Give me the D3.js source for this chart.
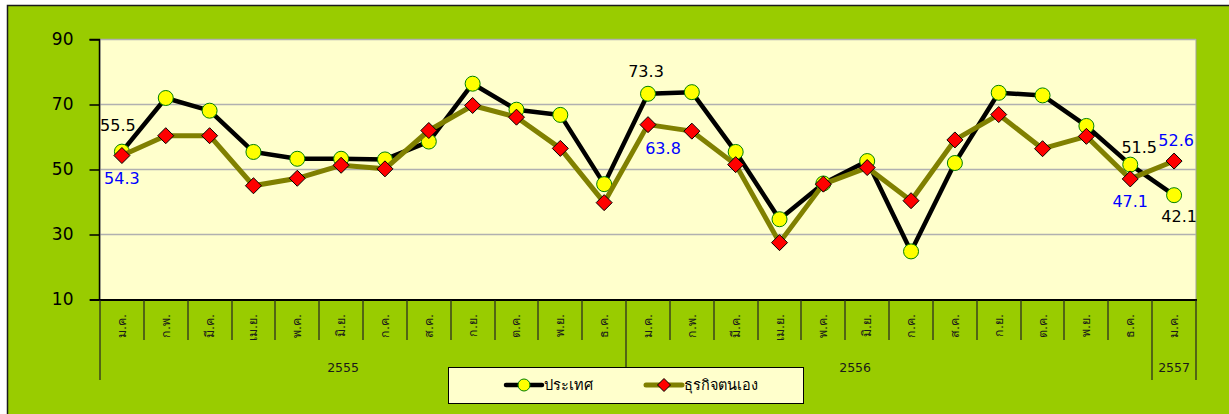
<!DOCTYPE html>
<html>
<head>
<meta charset="utf-8">
<script src="https://cdn.jsdelivr.net/npm/d3@7"></script>
<style>
  body { margin: 0; background: #fff; }
  svg { display: block; font-family: Tahoma, "DejaVu Sans", sans-serif; }
</style>
</head>
<body>
<svg width="1229" height="414"></svg>
<script>
"use strict";

// categories (months) and groups (Buddhist years)
const months = [
  "ม.ค.", "ก.พ.", "มี.ค.", "เม.ย.", "พ.ค.", "มิ.ย.", "ก.ค.", "ส.ค.", "ก.ย.", "ต.ค.", "พ.ย.", "ธ.ค.",
  "ม.ค.", "ก.พ.", "มี.ค.", "เม.ย.", "พ.ค.", "มิ.ย.", "ก.ค.", "ส.ค.", "ก.ย.", "ต.ค.", "พ.ย.", "ธ.ค.",
  "ม.ค.",
];
const years = ["2555", "2556", "2557"];
const yearStart = [0, 12, 24];
const yearEnd = [12, 24, 25];

// series values
const seriesNames = ["ประเทศ", "ธุรกิจตนเอง"];
const country = [
  55.5, 72.0, 68.1, 55.4, 53.3, 53.3, 53.1, 58.6, 76.4, 68.4, 66.8, 45.5,
  73.3, 73.8, 55.4, 34.7, 45.7, 52.6, 24.8, 52.0, 73.6, 72.8, 63.4, 51.5,
  42.1,
];
const ownBusiness = [
  54.3, 60.4, 60.4, 45.0, 47.3, 51.3, 50.2, 62.0, 69.7, 66.1, 56.5, 39.8,
  63.8, 61.8, 51.5, 27.5, 45.5, 50.6, 40.4, 59.1, 66.9, 56.4, 60.2, 47.1,
  52.6,
];
// which points carry a value label
const labelIdxCountry = [0, 12, 23, 24];
const labelIdxOwn = [0, 12, 23, 24];

const yTicks = [10, 30, 50, 70, 90];

// ---------------------------------------------------------------
const svg = d3.select("svg");
const width = +svg.attr("width");
const height = +svg.attr("height");

const plot = { left: 100, right: 1196, top: 40, bottom: 300 };

// outer chart area
svg.append("rect")
  .attr("x", 7.5).attr("y", 5.5)
  .attr("width", width).attr("height", height)
  .attr("fill", "#99cc00")
  .attr("stroke", "#1a1a1a")
  .attr("stroke-width", 1.5);

const xScale = d3.scaleBand()
  .domain(d3.range(months.length))
  .range([plot.left, plot.right])
  .padding(0);
const xc = (i) => xScale(i) + xScale.bandwidth() / 2;

const yScale = d3.scaleLinear()
  .domain([10, 90])
  .range([plot.bottom - 0.5, plot.top - 0.5]);

// plot area
svg.append("rect")
  .attr("x", plot.left).attr("y", plot.top - 0.5)
  .attr("width", plot.right - plot.left).attr("height", plot.bottom - plot.top)
  .attr("fill", "#ffffcc")
  .attr("stroke", "#a0a0a0")
  .attr("stroke-width", 1);

// gridlines
svg.append("g")
  .selectAll("line")
  .data(yTicks.slice(1))
  .enter()
  .append("line")
  .attr("x1", plot.left).attr("x2", plot.right)
  .attr("y1", (d) => yScale(d)).attr("y2", (d) => yScale(d))
  .attr("stroke", "#b0b0b0")
  .attr("stroke-width", 1.5);

// y axis
const yAxis = d3.axisLeft(yScale)
  .tickValues(yTicks)
  .tickSize(10)
  .tickPadding(16)
  .tickFormat(d3.format("d"));

const yAxisG = svg.append("g")
  .attr("transform", `translate(${plot.left - 0.5},0)`)
  .call(yAxis);
yAxisG.select(".domain").attr("stroke", "#000").attr("stroke-width", 1.5)
  .attr("d", `M-10,${yScale(90)}H0V${plot.bottom}`);
yAxisG.selectAll(".tick line").attr("stroke", "#000").attr("stroke-width", 1.5);
yAxisG.selectAll(".tick text")
  .attr("fill", "#000")
  .style("font-size", "17px")
  .style("font-family", "'DejaVu Sans', sans-serif");

// x axis (two level categories)
const xAxisG = svg.append("g");
xAxisG.append("line")
  .attr("x1", plot.left - 10).attr("x2", plot.right + 1)
  .attr("y1", plot.bottom).attr("y2", plot.bottom)
  .attr("stroke", "#000").attr("stroke-width", 2);

const groupBounds = yearStart.concat([months.length]);
const monthBounds = d3.range(months.length + 1).filter((i) => !groupBounds.includes(i));

xAxisG.selectAll("line.mtick")
  .data(monthBounds)
  .enter()
  .append("line")
  .attr("class", "mtick")
  .attr("x1", (i) => Math.round(xScale(i) ?? plot.right))
  .attr("x2", (i) => Math.round(xScale(i) ?? plot.right))
  .attr("y1", plot.bottom).attr("y2", plot.bottom + 40)
  .attr("stroke", "#222").attr("stroke-width", 1.2);

xAxisG.selectAll("line.gtick")
  .data(groupBounds)
  .enter()
  .append("line")
  .attr("class", "gtick")
  .attr("x1", (i) => Math.round(i < months.length ? xScale(i) : plot.right))
  .attr("x2", (i) => Math.round(i < months.length ? xScale(i) : plot.right))
  .attr("y1", plot.bottom).attr("y2", plot.bottom + 80)
  .attr("stroke", "#222").attr("stroke-width", 1.2);

xAxisG.selectAll("text.month")
  .data(months)
  .enter()
  .append("text")
  .attr("class", "month")
  .attr("transform", (d, i) => `translate(${xc(i) + 4},${plot.bottom + 14}) rotate(-90)`)
  .attr("text-anchor", "end")
  .style("font-size", "12.5px")
  .attr("fill", "#1a1a1a")
  .text((d) => d);

// year labels sit a little left of group centre as in the original
const yearShift = [-20, -34, 0];
xAxisG.selectAll("text.year")
  .data(years)
  .enter()
  .append("text")
  .attr("class", "year")
  .attr("x", (d, i) => {
    const a = xScale(yearStart[i]);
    const b = yearEnd[i] < months.length ? xScale(yearEnd[i]) : plot.right;
    return (a + b) / 2 + yearShift[i];
  })
  .attr("y", plot.bottom + 72)
  .attr("text-anchor", "middle")
  .style("font-size", "12.5px")
  .attr("fill", "#1a1a1a")
  .text((d) => d);

// lines
const line = (arr) => d3.line().x((d, i) => xc(i)).y((d) => yScale(d))(arr);

const diamond = (r) => `M0,${-r}L${r},0L0,${r}L${-r},0Z`;

// series 1
svg.append("path")
  .attr("d", line(country))
  .attr("fill", "none")
  .attr("stroke", "#000")
  .attr("stroke-width", 4.5)
  .attr("stroke-linejoin", "round");
svg.append("g")
  .selectAll("circle")
  .data(country)
  .enter()
  .append("circle")
  .attr("cx", (d, i) => xc(i))
  .attr("cy", (d) => yScale(d))
  .attr("r", 7.5)
  .attr("fill", "#ffff00")
  .attr("stroke", "#008000")
  .attr("stroke-width", 1);

// series 2
svg.append("path")
  .attr("d", line(ownBusiness))
  .attr("fill", "none")
  .attr("stroke", "#808000")
  .attr("stroke-width", 5)
  .attr("stroke-linejoin", "round");
svg.append("g")
  .selectAll("path")
  .data(ownBusiness)
  .enter()
  .append("path")
  .attr("d", diamond(8))
  .attr("transform", (d, i) => `translate(${xc(i)},${yScale(d)})`)
  .attr("fill", "#ff0000")
  .attr("stroke", "#000")
  .attr("stroke-width", 1);

// value labels: [dx, dy] of baseline centre relative to the point
const offCountry = { 0: [-4, -21], 12: [-2, -17], 23: [9, -12], 24: [5, 27] };
const offOwn = { 0: [0, 28], 12: [15, 29], 23: [0, 28], 24: [2, -15] };

svg.append("g")
  .selectAll("text")
  .data(labelIdxCountry)
  .enter()
  .append("text")
  .attr("x", (i) => xc(i) + offCountry[i][0])
  .attr("y", (i) => yScale(country[i]) + offCountry[i][1])
  .attr("text-anchor", "middle")
  .style("font-size", "16px")
  .style("font-family", "'DejaVu Sans', sans-serif")
  .attr("fill", "#000")
  .text((i) => country[i].toFixed(1));

svg.append("g")
  .selectAll("text")
  .data(labelIdxOwn)
  .enter()
  .append("text")
  .attr("x", (i) => xc(i) + offOwn[i][0])
  .attr("y", (i) => yScale(ownBusiness[i]) + offOwn[i][1])
  .attr("text-anchor", "middle")
  .style("font-size", "16px")
  .style("font-family", "'DejaVu Sans', sans-serif")
  .attr("fill", "#0000ff")
  .text((i) => ownBusiness[i].toFixed(1));

// legend
const lg = svg.append("g");
lg.append("rect")
  .attr("x", 448.5).attr("y", 367.5)
  .attr("width", 355).attr("height", 36)
  .attr("fill", "#ffffcc")
  .attr("stroke", "#000")
  .attr("stroke-width", 1);

const legendX = [506, 646];
const legendItems = lg.selectAll("g.item")
  .data(seriesNames)
  .enter()
  .append("g")
  .attr("class", "item")
  .attr("transform", (d, i) => `translate(${legendX[i]},385)`);

legendItems.append("line")
  .attr("x1", 0).attr("x2", 36)
  .attr("stroke", (d, i) => (i === 0 ? "#000" : "#808000"))
  .attr("stroke-width", (d, i) => (i === 0 ? 4.5 : 5))
  .attr("stroke-linecap", "round");

legendItems.filter((d, i) => i === 0)
  .append("circle")
  .attr("cx", 18).attr("r", 6)
  .attr("fill", "#ffff00")
  .attr("stroke", "#008000");

legendItems.filter((d, i) => i === 1)
  .append("path")
  .attr("d", diamond(6.5))
  .attr("transform", "translate(18,0)")
  .attr("fill", "#ff0000")
  .attr("stroke", "#000");

legendItems.append("text")
  .attr("x", 38)
  .attr("y", 5)
  .style("font-size", "14.5px")
  .attr("fill", "#000")
  .text((d) => d);
</script>
</body>
</html>
